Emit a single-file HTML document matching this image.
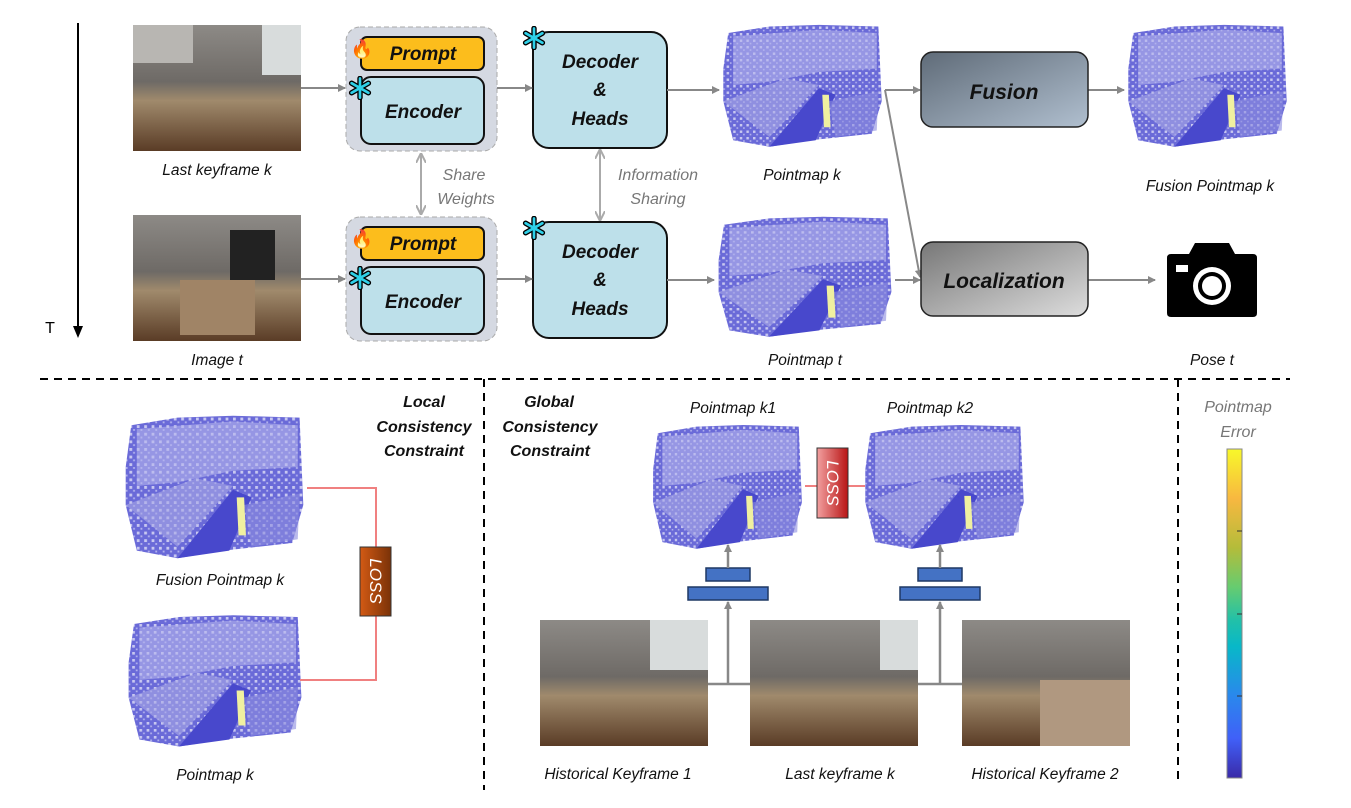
<!DOCTYPE html>
<html><head><meta charset="utf-8"><style>
html,body{margin:0;padding:0;background:#fff;}
svg{display:block;font-family:"Liberation Sans",sans-serif;}
.lb{font-style:italic;font-size:15.5px;fill:#111;text-anchor:middle;}
.gl{font-style:italic;font-size:16px;fill:#777;text-anchor:middle;}
.bt{font-style:italic;font-weight:bold;fill:#111;text-anchor:middle;}
</style></head><body>
<svg width="1351" height="808" viewBox="0 0 1351 808" xmlns="http://www.w3.org/2000/svg">
<defs>
<marker id="ag" markerWidth="8" markerHeight="8" refX="7" refY="4" orient="auto" markerUnits="userSpaceOnUse"><path d="M0,0 L8,4 L0,8 z" fill="#888"/></marker>
<marker id="ags" markerWidth="10" markerHeight="10" refX="9" refY="5" orient="auto-start-reverse" markerUnits="userSpaceOnUse"><path d="M0,0 L10,5 L0,10" fill="none" stroke="#aaa" stroke-width="2"/></marker>
<linearGradient id="ph" x1="0" y1="0" x2="0" y2="1"><stop offset="0" stop-color="#8d8a86"/><stop offset="0.45" stop-color="#6e6a66"/><stop offset="0.6" stop-color="#a08a6c"/><stop offset="1" stop-color="#5a3c26"/></linearGradient>
<linearGradient id="fu" x1="0" y1="0" x2="1" y2="1"><stop offset="0" stop-color="#5f6b78"/><stop offset="1" stop-color="#b0bfcf"/></linearGradient>
<linearGradient id="lo" x1="0" y1="0" x2="1" y2="1"><stop offset="0" stop-color="#777"/><stop offset="1" stop-color="#ddd"/></linearGradient>
<linearGradient id="l1" x1="0" y1="0" x2="1" y2="0"><stop offset="0" stop-color="#d35a14"/><stop offset="1" stop-color="#7a3208"/></linearGradient>
<linearGradient id="l2" x1="0" y1="0" x2="1" y2="0"><stop offset="0" stop-color="#f2a0a0"/><stop offset="1" stop-color="#b81414"/></linearGradient>
<linearGradient id="cb" x1="0" y1="0" x2="0" y2="1"><stop offset="0" stop-color="#f8f82a"/><stop offset="0.15" stop-color="#f8b840"/><stop offset="0.3" stop-color="#b4bc3a"/><stop offset="0.42" stop-color="#66cc70"/><stop offset="0.52" stop-color="#22c0a8"/><stop offset="0.6" stop-color="#08b8c8"/><stop offset="0.75" stop-color="#2a88ec"/><stop offset="0.88" stop-color="#4060f8"/><stop offset="1" stop-color="#3a2aa8"/></linearGradient>
<pattern id="sp" width="4" height="4" patternUnits="userSpaceOnUse"><rect width="4" height="4" fill="#6a6ad8"/><rect width="1.5" height="1.5" fill="#c8c8f0"/><rect x="2" y="2" width="1" height="1" fill="#b0b0ec"/></pattern>
<symbol id="pm" viewBox="0 0 100 80" preserveAspectRatio="none">
<polygon points="5,8 30,4 60,3 96,4 98,50 92,70 55,74 30,78 8,74 2,50 2,30" fill="url(#sp)"/>
<polygon points="8,10 60,6 95,8 95,30 60,32 30,38 8,40" fill="#b4b4ec" opacity="0.6"/>
<polygon points="2,50 40,36 60,40 30,72" fill="#a8a8e6" opacity="0.6"/>
<polygon points="30,78 60,42 70,46 58,74" fill="#4848cc"/>
<polygon points="66,50 96,44 95,68 70,72" fill="#8c8ce0" opacity="0.6"/>
<polygon points="62,46 66,46 67,66 63,66" fill="#f0f0a0"/>
</symbol>
<symbol id="sf" viewBox="-10 -10 20 20">
<g stroke="#000" stroke-width="4.5" stroke-linecap="round"><line x1="0" y1="-8" x2="0" y2="8"/><line x1="-7" y1="-4" x2="7" y2="4"/><line x1="-7" y1="4" x2="7" y2="-4"/></g>
<g stroke="#2ed0e8" stroke-width="2.2" stroke-linecap="round"><line x1="0" y1="-8" x2="0" y2="8"/><line x1="-7" y1="-4" x2="7" y2="4"/><line x1="-7" y1="4" x2="7" y2="-4"/></g>
</symbol>
<symbol id="cam" viewBox="0 0 90 74"><path d="M28,0 L62,0 L68,11 L86,11 Q90,11 90,15 L90,70 Q90,74 86,74 L4,74 Q0,74 0,70 L0,15 Q0,11 4,11 L22,11 z" fill="#000"/><rect x="9" y="22" width="12" height="7" fill="#fff"/><circle cx="45" cy="43" r="19" fill="#fff"/><circle cx="45" cy="43" r="14" fill="#000"/><circle cx="45" cy="43" r="10" fill="#fff"/></symbol>
</defs>

<line x1="78" y1="23" x2="78" y2="328" stroke="#000" stroke-width="2"/>
<path d="M73,326 L83,326 L78,338 z" fill="#000"/>
<text x="50" y="333" font-size="16" fill="#000" text-anchor="middle">T</text>

<rect x="133" y="25" width="168" height="126" fill="url(#ph)"/>
<rect x="133" y="25" width="60" height="38" fill="#b8b6b2"/><rect x="262" y="25" width="39" height="50" fill="#d8dcdc"/>
<rect x="133" y="215" width="168" height="126" fill="url(#ph)"/>
<rect x="230" y="230" width="45" height="50" fill="#222"/><rect x="180" y="280" width="75" height="55" fill="#a08466"/>
<text class="lb" x="217" y="175">Last keyframe k</text>
<text class="lb" x="217" y="365">Image t</text>

<g>
<rect x="346" y="27" width="151" height="124" rx="14" fill="#d5d9e2" stroke="#aaa" stroke-dasharray="5,3"/>
<rect x="361" y="37" width="123" height="33" rx="6" fill="#fcbd1c" stroke="#111" stroke-width="2"/>
<text class="bt" x="423" y="60" font-size="19">Prompt</text>
<rect x="361" y="77" width="123" height="67" rx="10" fill="#bde0ea" stroke="#111" stroke-width="2"/>
<text class="bt" x="423" y="118" font-size="19">Encoder</text>
<text x="362" y="55" font-size="18" text-anchor="middle" fill="#f05a10">🔥</text>
<use href="#sf" x="348" y="76" width="24" height="24"/>
</g>
<g transform="translate(0,190)">
<rect x="346" y="27" width="151" height="124" rx="14" fill="#d5d9e2" stroke="#aaa" stroke-dasharray="5,3"/>
<rect x="361" y="37" width="123" height="33" rx="6" fill="#fcbd1c" stroke="#111" stroke-width="2"/>
<text class="bt" x="423" y="60" font-size="19">Prompt</text>
<rect x="361" y="77" width="123" height="67" rx="10" fill="#bde0ea" stroke="#111" stroke-width="2"/>
<text class="bt" x="423" y="118" font-size="19">Encoder</text>
<text x="362" y="55" font-size="18" text-anchor="middle" fill="#f05a10">🔥</text>
<use href="#sf" x="348" y="76" width="24" height="24"/>
</g>
<g>
<rect x="533" y="32" width="134" height="116" rx="16" fill="#bde0ea" stroke="#111" stroke-width="2"/>
<text class="bt" x="600" y="68" font-size="19">Decoder</text>
<text class="bt" x="600" y="96" font-size="19" font-weight="normal">&amp;</text>
<text class="bt" x="600" y="125" font-size="19">Heads</text>
<use href="#sf" x="522" y="26" width="24" height="24"/>
</g>
<g transform="translate(0,190)">
<rect x="533" y="32" width="134" height="116" rx="16" fill="#bde0ea" stroke="#111" stroke-width="2"/>
<text class="bt" x="600" y="68" font-size="19">Decoder</text>
<text class="bt" x="600" y="96" font-size="19" font-weight="normal">&amp;</text>
<text class="bt" x="600" y="125" font-size="19">Heads</text>
<use href="#sf" x="522" y="26" width="24" height="24"/>
</g>

<g stroke="#888" stroke-width="2" fill="none" marker-end="url(#ag)">
<line x1="301" y1="88" x2="345" y2="88"/>
<line x1="497" y1="88" x2="532" y2="88"/>
<line x1="667" y1="90" x2="719" y2="90"/>
<line x1="301" y1="279" x2="345" y2="279"/>
<line x1="497" y1="279" x2="532" y2="279"/>
<line x1="667" y1="280" x2="714" y2="280"/>
<line x1="885" y1="90" x2="920" y2="90"/>
<line x1="885" y1="90" x2="920" y2="277"/>
<line x1="895" y1="280" x2="920" y2="280"/>
<line x1="1088" y1="90" x2="1124" y2="90"/>
<line x1="1088" y1="280" x2="1155" y2="280"/>
</g>
<g stroke="#aaa" stroke-width="2" marker-start="url(#ags)" marker-end="url(#ags)">
<line x1="421" y1="154" x2="421" y2="214"/>
<line x1="600" y1="150" x2="600" y2="220"/>
</g>
<text class="gl" x="464" y="180">Share</text><text class="gl" x="466" y="204">Weights</text>
<text class="gl" x="658" y="180">Information</text><text class="gl" x="658" y="204">Sharing</text>

<use href="#pm" x="720" y="20" width="165" height="130"/>
<use href="#pm" x="715" y="212" width="180" height="128"/>
<use href="#pm" x="1125" y="20" width="165" height="130"/>
<text class="lb" x="802" y="180">Pointmap k</text>
<text class="lb" x="805" y="365">Pointmap t</text>
<text class="lb" x="1210" y="191">Fusion Pointmap k</text>

<rect x="921" y="52" width="167" height="75" rx="12" fill="url(#fu)" stroke="#222" stroke-width="1.5"/>
<text class="bt" x="1004" y="99" font-size="21">Fusion</text>
<rect x="921" y="242" width="167" height="74" rx="12" fill="url(#lo)" stroke="#222" stroke-width="1.5"/>
<text class="bt" x="1004" y="288" font-size="21">Localization</text>
<use href="#cam" x="1167" y="243" width="90" height="74"/>
<text class="lb" x="1212" y="365">Pose t</text>

<g stroke="#000" stroke-width="2" stroke-dasharray="8,6" fill="none">
<line x1="40" y1="379" x2="1290" y2="379"/>
<line x1="484" y1="379" x2="484" y2="790"/>
<line x1="1178" y1="379" x2="1178" y2="780"/>
</g>

<use href="#pm" x="122" y="410" width="185" height="152"/>
<use href="#pm" x="125" y="610" width="180" height="140"/>
<text class="lb" x="220" y="585">Fusion Pointmap k</text>
<text class="lb" x="215" y="780">Pointmap k</text>
<text class="bt" x="424" y="407" font-size="16">Local</text>
<text class="bt" x="424" y="432" font-size="16">Consistency</text>
<text class="bt" x="424" y="456" font-size="16">Constraint</text>
<polyline points="307,488 376,488 376,680 300,680" fill="none" stroke="#f08080" stroke-width="2"/>
<rect x="360" y="547" width="31" height="69" fill="url(#l1)" stroke="#333"/>
<text x="0" y="0" font-size="17" fill="#fff" font-style="italic" text-anchor="middle" transform="translate(370,581) rotate(90)">LOSS</text>

<text class="bt" x="549" y="407" font-size="16">Global</text>
<text class="bt" x="550" y="432" font-size="16">Consistency</text>
<text class="bt" x="550" y="456" font-size="16">Constraint</text>
<text class="lb" x="733" y="413">Pointmap k1</text>
<text class="lb" x="930" y="413">Pointmap k2</text>
<use href="#pm" x="650" y="420" width="155" height="132"/>
<use href="#pm" x="862" y="420" width="165" height="132"/>
<line x1="805" y1="486" x2="865" y2="486" stroke="#f08080" stroke-width="2"/>
<rect x="817" y="448" width="31" height="70" fill="url(#l2)" stroke="#333"/>
<text x="0" y="0" font-size="17" fill="#fff" font-style="italic" text-anchor="middle" transform="translate(827,483) rotate(90)">LOSS</text>

<g fill="#4472c4" stroke="#1f3864" stroke-width="1.5">
<rect x="706" y="568" width="44" height="13"/><rect x="688" y="587" width="80" height="13"/>
<rect x="918" y="568" width="44" height="13"/><rect x="900" y="587" width="80" height="13"/>
</g>
<g stroke="#888" stroke-width="2.5" fill="none" marker-end="url(#ag)">
<line x1="728" y1="568" x2="728" y2="545"/>
<line x1="940" y1="568" x2="940" y2="545"/>
<line x1="728" y1="684" x2="728" y2="602"/>
<line x1="940" y1="684" x2="940" y2="602"/>
</g>
<line x1="708" y1="684" x2="962" y2="684" stroke="#888" stroke-width="2.5"/>

<rect x="540" y="620" width="168" height="126" fill="url(#ph)"/>
<rect x="750" y="620" width="168" height="126" fill="url(#ph)"/>
<rect x="962" y="620" width="168" height="126" fill="url(#ph)"/>
<rect x="650" y="620" width="58" height="50" fill="#d8dcdc"/>
<rect x="880" y="620" width="38" height="50" fill="#d8dcdc"/>
<rect x="1040" y="680" width="90" height="66" fill="#b09880"/>
<text class="lb" x="618" y="779">Historical Keyframe 1</text>
<text class="lb" x="840" y="779">Last keyframe k</text>
<text class="lb" x="1045" y="779">Historical Keyframe 2</text>

<text class="gl" x="1238" y="412">Pointmap</text>
<text class="gl" x="1238" y="437">Error</text>
<rect x="1227" y="449" width="15" height="329" fill="url(#cb)" stroke="#888"/>
<g stroke="#333"><line x1="1237" y1="531" x2="1242" y2="531"/><line x1="1237" y1="614" x2="1242" y2="614"/><line x1="1237" y1="696" x2="1242" y2="696"/></g>
</svg>
</body></html>
